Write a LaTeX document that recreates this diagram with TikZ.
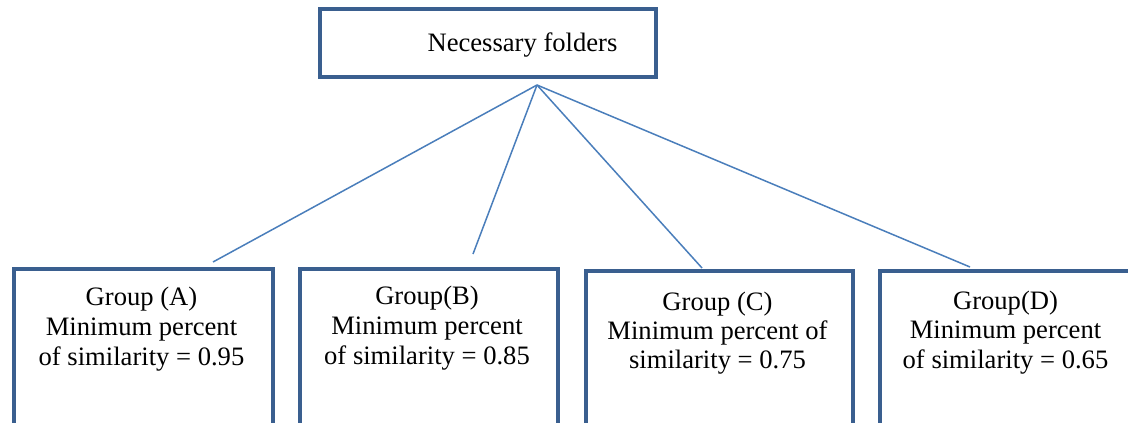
\documentclass[tikz,border=0pt]{standalone}
\usepackage{fontspec}
\setmainfont{Liberation Serif}
\definecolor{boxblue}{HTML}{3A5F8F}
\definecolor{lineblue}{HTML}{4A7EBB}
\begin{document}
\begin{tikzpicture}[x=1pt,y=-1pt,
  box/.style={draw=boxblue, line width=4pt, fill=white, inner sep=0pt},
  txt/.style={inner sep=0pt, align=center, font=\fontsize{26.6}{30}\selectfont, text=black},
  conn/.style={draw=lineblue, line width=1.5pt}]
\useasboundingbox (0,0) rectangle (1128,423);
\clip (0,0) rectangle (1128,423);
% top box
\node[box, minimum width=336pt, minimum height=68pt] (top) at (488,43) {};
\node[txt] (toptext) at (522.5,45) {Necessary folders};
% connector apex and ends
\coordinate (apex) at (537,85);
\coordinate (ea) at (213,262);
\coordinate (eb) at (473,254);
\coordinate (ec) at (702,268);
\coordinate (ed) at (970,267);
\draw[conn] (apex) -- (ea);
\draw[conn] (apex) -- (eb);
\draw[conn] (apex) -- (ec);
\draw[conn] (apex) -- (ed);
% group boxes
\node[box, anchor=north west, minimum width=259pt, minimum height=200pt] (ga) at (12,267) {};
\node[box, anchor=north west, minimum width=258pt, minimum height=200pt] (gb) at (298,267) {};
\node[box, anchor=north west, minimum width=267pt, minimum height=200pt] (gc) at (584,269) {};
\node[box, anchor=north west, minimum width=255pt, minimum height=200pt] (gd) at (878,269) {};
% texts (anchor at baseline)
\node[txt, anchor=base] (ta1) at (141.5,305) {Group (A)};
\node[txt, anchor=base] (ta2) at (141.5,335) {Minimum percent};
\node[txt, anchor=base] (ta3) at (141.5,365) {of similarity = 0.95};
\node[txt, anchor=base] (tb1) at (427,304) {Group(B)};
\node[txt, anchor=base] (tb2) at (427,334) {Minimum percent};
\node[txt, anchor=base] (tb3) at (427,364) {of similarity = 0.85};
\node[txt, anchor=base] (tc1) at (717.5,310) {Group (C)};
\node[txt, anchor=base] (tc2) at (717.5,339) {Minimum percent of};
\node[txt, anchor=base] (tc3) at (717.5,368) {similarity = 0.75};
\node[txt, anchor=base] (td1) at (1005.5,309) {Group(D)};
\node[txt, anchor=base] (td2) at (1005.5,338) {Minimum percent};
\node[txt, anchor=base] (td3) at (1005.5,368) {of similarity = 0.65};
\end{tikzpicture}
\end{document}
